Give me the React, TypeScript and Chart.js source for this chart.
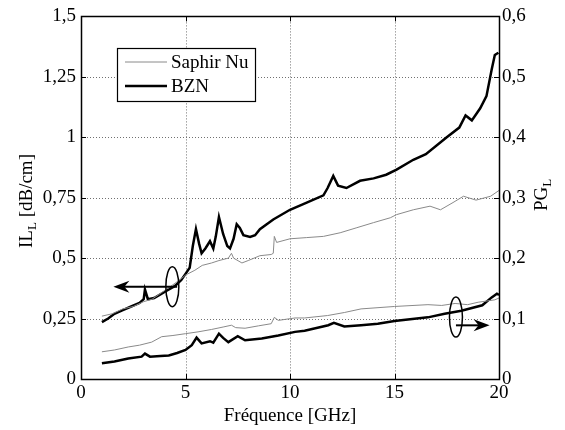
import React, { useEffect, useRef } from 'react';
import { Chart, registerables } from 'chart.js';

Chart.register(...registerables);

// ---------- data ----------
const xTicks = [0, 5, 10, 15, 20];
const ilTicks = [0, 0.25, 0.5, 0.75, 1, 1.25, 1.5];
const pgTicks = [0, 0.1, 0.2, 0.3, 0.4, 0.5, 0.6];

const bznIlFreq = [1.0, 1.3, 1.6, 2.0, 2.4, 2.8, 3.0, 3.06, 3.2, 3.5, 3.8, 4.1, 4.5, 4.8, 5.0, 5.2, 5.35, 5.5, 5.65, 5.77, 5.95, 6.17, 6.33, 6.45, 6.6, 6.8, 7.0, 7.13, 7.3, 7.45, 7.6, 7.77, 8.09, 8.33, 8.56, 9.2, 10, 10.8, 11.6, 11.8, 12.07, 12.3, 12.7, 13.35, 14, 14.6, 15.1, 15.9, 16.5, 17.5, 18.1, 18.4, 18.7, 19.1, 19.4, 19.65, 19.8, 19.97];
const bznIlVal = [0.235, 0.25, 0.27, 0.285, 0.3, 0.315, 0.33, 0.37, 0.33, 0.335, 0.35, 0.365, 0.385, 0.41, 0.435, 0.46, 0.55, 0.62, 0.56, 0.52, 0.54, 0.57, 0.54, 0.59, 0.67, 0.6, 0.55, 0.54, 0.58, 0.64, 0.625, 0.595, 0.588, 0.595, 0.62, 0.66, 0.7, 0.73, 0.76, 0.79, 0.84, 0.8, 0.79, 0.82, 0.83, 0.845, 0.866, 0.907, 0.93, 1.0, 1.04, 1.09, 1.07, 1.12, 1.17, 1.28, 1.34, 1.35];

const saphirIlFreq = [1.0, 1.5, 2.0, 2.5, 3.0, 3.4, 3.9, 4.4, 4.8, 5.0, 5.45, 5.8, 6.25, 6.6, 7.05, 7.2, 7.3, 7.7, 8.0, 8.56, 9.1, 9.2, 9.25, 9.36, 10, 10.8, 11.6, 12.4, 13.2, 14, 14.8, 15.1, 15.9, 16.7, 17.2, 17.8, 18.3, 18.9, 19.6, 20];
const saphirIlVal = [0.26, 0.27, 0.29, 0.3, 0.32, 0.33, 0.36, 0.39, 0.415, 0.43, 0.45, 0.47, 0.48, 0.49, 0.5, 0.52, 0.5, 0.48, 0.49, 0.51, 0.515, 0.52, 0.59, 0.565, 0.58, 0.585, 0.59, 0.605, 0.626, 0.647, 0.667, 0.68, 0.7, 0.715, 0.7, 0.73, 0.756, 0.74, 0.756, 0.78];

const bznPgFreq = [1, 1.6, 2.26, 2.9, 3.06, 3.3, 3.8, 4.2, 4.6, 5, 5.3, 5.53, 5.77, 6.17, 6.33, 6.6, 6.8, 7.05, 7.5, 7.85, 8.65, 9.44, 10.24, 10.7, 11.83, 12.1, 12.6, 13.4, 14.2, 15, 16.6, 17.4, 18.2, 19.2, 19.65, 19.9, 20];
const bznPgVal = [0.026, 0.029, 0.034, 0.037, 0.042, 0.037, 0.038, 0.039, 0.043, 0.048, 0.056, 0.0685, 0.059, 0.0625, 0.06, 0.075, 0.068, 0.061, 0.0707, 0.064, 0.067, 0.072, 0.078, 0.08, 0.089, 0.093, 0.087, 0.089, 0.0915, 0.096, 0.102, 0.108, 0.113, 0.122, 0.135, 0.141, 0.139];

const saphirPgFreq = [1, 1.6, 2.26, 2.8, 3.38, 3.86, 4.4, 5, 5.6, 6.25, 6.8, 7.2, 7.4, 7.85, 8.5, 9.1, 9.25, 9.44, 10.24, 10.7, 11.8, 12.6, 13.4, 15, 16.6, 17.26, 17.9, 18.5, 19, 19.8, 20];
const saphirPgVal = [0.045, 0.048, 0.053, 0.056, 0.061, 0.07, 0.072, 0.075, 0.078, 0.082, 0.086, 0.089, 0.085, 0.084, 0.088, 0.0915, 0.102, 0.097, 0.101, 0.101, 0.105, 0.11, 0.116, 0.12, 0.123, 0.1217, 0.125, 0.123, 0.127, 0.131, 0.134];

const legendLabels = ['Saphir Nu', 'BZN'];
const xTitle = 'Fréquence [GHz]';

// ---------- style ----------
const FONT = "'Liberation Serif'";
const GRAY = '#8a8a8a';
const BLACK = '#000000';

const pts = (xs: number[], ys: number[]) => xs.map((x, i) => ({ x, y: ys[i] }));
const fmt = (v: number) => String(parseFloat(v.toFixed(2))).replace('.', ',');

const decor = {
  id: 'decor',
  beforeDatasetsDraw(chart: any) {
    const { ctx, chartArea: a, scales } = chart;
    ctx.save();
    ctx.strokeStyle = '#707070';
    ctx.lineWidth = 1;
    ctx.setLineDash([1, 2]);
    xTicks.forEach((v) => {
      const px = Math.round(scales.x.getPixelForValue(v)) + 0.5;
      ctx.beginPath(); ctx.moveTo(px, a.top); ctx.lineTo(px, a.bottom); ctx.stroke();
    });
    ilTicks.forEach((v) => {
      const py = Math.round(scales.y.getPixelForValue(v)) + 0.5;
      ctx.beginPath(); ctx.moveTo(a.left, py); ctx.lineTo(a.right, py); ctx.stroke();
    });
    ctx.restore();
  },
  afterDatasetsDraw(chart: any) {
    const { ctx, chartArea: a, scales } = chart;
    ctx.save();
    // box
    ctx.strokeStyle = BLACK;
    ctx.lineWidth = 1.5;
    ctx.strokeRect(Math.round(a.left) + 0.5, Math.round(a.top) + 0.5, Math.round(a.right - a.left), Math.round(a.bottom - a.top));
    // inward tick marks
    ctx.lineWidth = 1;
    const TL = 5;
    xTicks.forEach((v) => {
      const px = Math.round(scales.x.getPixelForValue(v)) + 0.5;
      ctx.beginPath();
      ctx.moveTo(px, a.bottom); ctx.lineTo(px, a.bottom - TL);
      ctx.moveTo(px, a.top); ctx.lineTo(px, a.top + TL);
      ctx.stroke();
    });
    ilTicks.forEach((v) => {
      const py = Math.round(scales.y.getPixelForValue(v)) + 0.5;
      ctx.beginPath(); ctx.moveTo(a.left, py); ctx.lineTo(a.left + TL, py); ctx.stroke();
    });
    pgTicks.forEach((v) => {
      const py = Math.round(scales.y1.getPixelForValue(v)) + 0.5;
      ctx.beginPath(); ctx.moveTo(a.right, py); ctx.lineTo(a.right - TL, py); ctx.stroke();
    });

    // legend
    const lx = 117.5, ly = 48.5, lw = 138, lh = 53;
    ctx.fillStyle = '#ffffff';
    ctx.fillRect(lx, ly, lw, lh);
    ctx.strokeStyle = BLACK;
    ctx.lineWidth = 1.2;
    ctx.strokeRect(lx, ly, lw, lh);
    ctx.font = `19px ${FONT}`;
    ctx.textBaseline = 'middle';
    ctx.textAlign = 'left';
    ctx.fillStyle = BLACK;
    const rows = [
      { label: legendLabels[0], color: GRAY, w: 1, y: 62 },
      { label: legendLabels[1], color: BLACK, w: 2.5, y: 86 },
    ];
    rows.forEach((r) => {
      ctx.strokeStyle = r.color;
      ctx.lineWidth = r.w;
      ctx.beginPath(); ctx.moveTo(125, r.y); ctx.lineTo(167, r.y); ctx.stroke();
      ctx.fillText(r.label, 171, r.y + 1);
    });

    // annotations: ellipses + arrows
    const drawEllipse = (cx: number, cy: number) => {
      ctx.strokeStyle = BLACK;
      ctx.lineWidth = 1.5;
      ctx.beginPath();
      ctx.ellipse(cx, cy, 6.5, 20, 0, 0, Math.PI * 2);
      ctx.stroke();
    };
    const drawArrow = (x1: number, x2: number, y: number) => {
      const dir = x2 > x1 ? 1 : -1;
      ctx.strokeStyle = BLACK;
      ctx.lineWidth = 2;
      ctx.beginPath(); ctx.moveTo(x1, y); ctx.lineTo(x2 - dir * 8, y); ctx.stroke();
      ctx.fillStyle = BLACK;
      ctx.beginPath();
      ctx.moveTo(x2, y);
      ctx.lineTo(x2 - dir * 16, y - 6);
      ctx.lineTo(x2 - dir * 11, y);
      ctx.lineTo(x2 - dir * 16, y + 6);
      ctx.closePath();
      ctx.fill();
    };
    const e1x = scales.x.getPixelForValue(4.37);
    const e1y = scales.y.getPixelForValue(0.382);
    drawEllipse(e1x, e1y);
    drawArrow(scales.x.getPixelForValue(4.6), scales.x.getPixelForValue(1.55), e1y);

    const e2x = scales.x.getPixelForValue(17.94);
    const e2y = scales.y1.getPixelForValue(0.1024);
    drawEllipse(e2x, e2y);
    drawArrow(e2x, scales.x.getPixelForValue(19.55), scales.y1.getPixelForValue(0.0888));

    // titles
    ctx.fillStyle = BLACK;
    ctx.textBaseline = 'alphabetic';
    ctx.textAlign = 'center';
    ctx.font = `19px ${FONT}`;
    ctx.fillText(xTitle, (a.left + a.right) / 2, 421);

    const rotTitle = (x: number, cy: number, main: string, sub: string, rest: string) => {
      ctx.save();
      ctx.translate(x, cy);
      ctx.rotate(-Math.PI / 2);
      ctx.textAlign = 'left';
      ctx.font = `19px ${FONT}`;
      const w1 = ctx.measureText(main).width;
      const w3 = ctx.measureText(rest).width;
      ctx.font = `13px ${FONT}`;
      const w2 = ctx.measureText(sub).width;
      const W = w1 + w2 + w3;
      let sx = -W / 2;
      ctx.font = `19px ${FONT}`;
      ctx.fillText(main, sx, 0);
      sx += w1;
      ctx.font = `13px ${FONT}`;
      ctx.fillText(sub, sx, 4);
      sx += w2;
      ctx.font = `19px ${FONT}`;
      if (rest) ctx.fillText(rest, sx, 0);
      ctx.restore();
    };
    rotTitle(32, 201, 'IL', 'L', ' [dB/cm]');
    rotTitle(547, 195, 'PG', 'L', '');
    ctx.restore();
  },
};

export default function App() {
  const ref = useRef<HTMLCanvasElement | null>(null);
  useEffect(() => {
    if (!ref.current) return;
    const tickFont = { family: FONT, size: 19 };
    const chart = new Chart(ref.current, {
      type: 'line',
      data: {
        datasets: [
          { label: 'Saphir Nu IL', data: pts(saphirIlFreq, saphirIlVal), yAxisID: 'y', borderColor: GRAY, borderWidth: 1, pointRadius: 0, tension: 0 },
          { label: 'BZN IL', data: pts(bznIlFreq, bznIlVal), yAxisID: 'y', borderColor: BLACK, borderWidth: 2.5, pointRadius: 0, tension: 0 },
          { label: 'Saphir Nu PG', data: pts(saphirPgFreq, saphirPgVal), yAxisID: 'y1', borderColor: GRAY, borderWidth: 1, pointRadius: 0, tension: 0 },
          { label: 'BZN PG', data: pts(bznPgFreq, bznPgVal), yAxisID: 'y1', borderColor: BLACK, borderWidth: 2.5, pointRadius: 0, tension: 0 },
        ],
      },
      options: {
        animation: false,
        responsive: false,
        maintainAspectRatio: false,
        layout: { padding: { top: 14, left: 0, right: 0, bottom: 0 } },
        plugins: { legend: { display: false }, tooltip: { enabled: false } },
        scales: {
          x: {
            type: 'linear', min: 0, max: 20, position: 'bottom',
            grid: { display: false, drawTicks: false, tickLength: 0 },
            border: { display: false },
            afterBuildTicks: (s: any) => { s.ticks = xTicks.map((v) => ({ value: v })); },
            ticks: { font: tickFont, color: BLACK, padding: 3, maxRotation: 0, callback: (v: any) => fmt(Number(v)) },
            afterFit: (s: any) => { s.height = 51; },
          },
          y: {
            type: 'linear', min: 0, max: 1.5, position: 'left',
            grid: { display: false, drawTicks: false, tickLength: 0 },
            border: { display: false },
            afterBuildTicks: (s: any) => { s.ticks = ilTicks.map((v) => ({ value: v })); },
            ticks: { font: tickFont, color: BLACK, padding: 5, callback: (v: any) => fmt(Number(v)) },
            afterFit: (s: any) => { s.width = 81; },
          },
          y1: {
            type: 'linear', min: 0, max: 0.6, position: 'right',
            grid: { display: false, drawTicks: false, tickLength: 0 },
            border: { display: false },
            afterBuildTicks: (s: any) => { s.ticks = pgTicks.map((v) => ({ value: v })); },
            ticks: { font: tickFont, color: BLACK, padding: 3, callback: (v: any) => fmt(Number(v)) },
            afterFit: (s: any) => { s.width = 66; },
          },
        },
      } as any,
      plugins: [decor],
    });
    let alive = true;
    const fonts = (document as any).fonts;
    if (fonts && fonts.load) {
      fonts.load(`19px ${FONT}`).then(() => { if (alive) chart.update(); }).catch(() => {});
      fonts.ready.then(() => { if (alive) chart.update(); });
    }
    return () => { alive = false; chart.destroy(); };
  }, []);
  return (
    <div style={{ position: 'fixed', left: 0, top: 0, width: 565, height: 430, background: '#fff' }}>
      <span style={{ position: 'absolute', left: 0, top: 0, fontFamily: 'Liberation Serif', fontSize: 19, color: 'transparent' }}>.</span>
      <canvas ref={ref} width={565} height={430} style={{ position: 'absolute', left: 0, top: 0, width: 565, height: 430 }} />
    </div>
  );
}
